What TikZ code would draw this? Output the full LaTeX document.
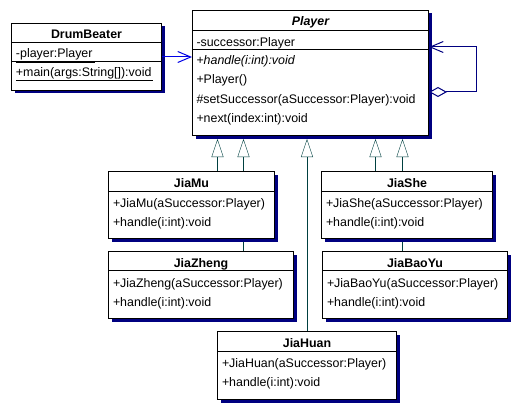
\documentclass[tikz,border=0pt]{standalone}
\usepackage{fontspec}
\setmainfont{Liberation Sans}
\usetikzlibrary{arrows.meta,shadows,backgrounds,calc}
\definecolor{umlnavy}{RGB}{0,0,128}
\definecolor{umlteal}{RGB}{0,64,64}
\definecolor{umlblue}{RGB}{0,0,230}

\begin{document}
\begin{tikzpicture}[x=1pt,y=-1pt,line width=1pt,font=\fontsize{12.4}{14}\selectfont]
\tikzset{classbox/.style = {draw = black, fill = white, anchor = north west, inner sep = 0pt,
    drop shadow = {shadow xshift = 3pt, shadow yshift = -3pt, fill = umlnavy, opacity = 1}}}
\tikzset{classname/.style = {anchor = base, inner sep = 0pt, font = \fontsize{12.4}{14}\selectfont\bfseries}}
\tikzset{member/.style = {anchor = base west, inner sep = 0pt}}
\tikzset{inherit/.style = {draw = umlteal, -{Triangle[open, length = 18pt, width = 12pt]}}}
\tikzset{assoc/.style = {draw = umlblue, -{Straight Barb[length = 13pt, width = 11pt]}}}
\tikzset{selfassoc/.style = {draw = umlnavy, {Diamond[fill = white, length = 18pt, width = 10pt]}-{Straight Barb[length = 13pt, width = 11pt]}}}

\useasboundingbox (0,0) rectangle (520,412);

% classes
\node[classbox, minimum width = 150pt, minimum height = 67pt]  (drumbeater) at (11,23)  {};
\node[classbox, minimum width = 236pt, minimum height = 125pt] (player)     at (192,10) {};
\node[classbox, minimum width = 166pt, minimum height = 67pt]  (jiamu)      at (108,171) {};
\node[classbox, minimum width = 171pt, minimum height = 67pt]  (jiashe)     at (321,171) {};
\node[classbox, minimum width = 185pt, minimum height = 67pt]  (jiazheng)   at (108,251) {};
\node[classbox, minimum width = 185pt, minimum height = 67pt]  (jiabaoyu)   at (322,251) {};
\node[classbox, minimum width = 179pt, minimum height = 68pt]  (jiahuan)    at (217,331) {};

% DrumBeater
\node[classname] at ($(drumbeater.north)+(0,16)$) {DrumBeater};
\draw ($(drumbeater.north west)+(0,20)$) -- ($(drumbeater.north east)+(0,20)$);
\draw ($(drumbeater.north west)+(0,38.5)$) -- ($(drumbeater.north east)+(0,38.5)$);
\node[member] at ($(drumbeater.north west)+(4.5,35)$)   {\underline{-player:Player\,}};
\node[member] at ($(drumbeater.north west)+(4.5,53.5)$) {\underline{+main(args:String[]):void\,}};

% Player
\node[classname, font = \fontsize{12.4}{14}\selectfont\bfseries\itshape] at ($(player.north)+(0,16)$) {Player};
\draw ($(player.north west)+(0,20.7)$) -- ($(player.north east)+(0,20.7)$);
\draw ($(player.north west)+(0,39.3)$) -- ($(player.north east)+(0,39.3)$);
\node[member] at ($(player.north west)+(4,36.5)$) {-successor:Player};
\node[member] at ($(player.north west)+(4,55)$)   {+\textit{handle(i:int):void}};
\node[member] at ($(player.north west)+(4,74)$)   {+Player()};
\node[member] at ($(player.north west)+(4,93)$)   {\#setSuccessor(aSuccessor:Player):void};
\node[member] at ($(player.north west)+(4,112)$)  {+next(index:int):void};

% JiaMu
\node[classname] at ($(jiamu.north)+(0,16.5)$) {JiaMu};
\draw ($(jiamu.north west)+(0,20)$) -- ($(jiamu.north east)+(0,20)$);
\node[member] at ($(jiamu.north west)+(4.5,36)$) {+JiaMu(aSuccessor:Player)};
\node[member] at ($(jiamu.north west)+(4.5,55)$) {+handle(i:int):void};

% JiaShe
\node[classname] at ($(jiashe.north)+(0,16.5)$) {JiaShe};
\draw ($(jiashe.north west)+(0,20)$) -- ($(jiashe.north east)+(0,20)$);
\node[member] at ($(jiashe.north west)+(4.5,36)$) {+JiaShe(aSuccessor:Player)};
\node[member] at ($(jiashe.north west)+(4.5,55)$) {+handle(i:int):void};

% JiaZheng
\node[classname] at ($(jiazheng.north)+(0,16.5)$) {JiaZheng};
\draw ($(jiazheng.north west)+(0,19.5)$) -- ($(jiazheng.north east)+(0,19.5)$);
\node[member] at ($(jiazheng.north west)+(4.5,36)$) {+JiaZheng(aSuccessor:Player)};
\node[member] at ($(jiazheng.north west)+(4.5,55)$) {+handle(i:int):void};

% JiaBaoYu
\node[classname] at ($(jiabaoyu.north)+(0,16.5)$) {JiaBaoYu};
\draw ($(jiabaoyu.north west)+(0,19.5)$) -- ($(jiabaoyu.north east)+(0,19.5)$);
\node[member] at ($(jiabaoyu.north west)+(4.5,36)$) {+JiaBaoYu(aSuccessor:Player)};
\node[member] at ($(jiabaoyu.north west)+(4.5,55)$) {+handle(i:int):void};

% JiaHuan
\node[classname] at ($(jiahuan.north)+(0,16.5)$) {JiaHuan};
\draw ($(jiahuan.north west)+(0,20)$) -- ($(jiahuan.north east)+(0,20)$);
\node[member] at ($(jiahuan.north west)+(4.5,36.5)$) {+JiaHuan(aSuccessor:Player)};
\node[member] at ($(jiahuan.north west)+(4.5,55.5)$) {+handle(i:int):void};

% generalizations
\begin{scope}[on background layer]
\draw[inherit] ($(jiamu.north)+(26,0)$)      -- ($(jiamu.north |- player.south)+(26,3)$);
\draw[inherit] ($(jiazheng.north)+(42.5,0)$) -- ($(jiazheng.north |- player.south)+(42.5,3)$);
\draw[inherit] (jiahuan.north)               -- ($(jiahuan.north |- player.south)+(0,3)$);
\draw[inherit] ($(jiashe.north)+(-31.5,0)$)  -- ($(jiashe.north |- player.south)+(-31.5,3)$);
\draw[inherit] ($(jiabaoyu.north)+(-12.5,0)$) -- ($(jiabaoyu.north |- player.south)+(-12.5,3)$);
\end{scope}

% associations
\draw[assoc] (drumbeater.east) -- (drumbeater.east -| player.west);
\draw[selfassoc] ($(player.north east)+(0,82)$) -- ++(47,0) |- ($(player.north east)+(0,37)$);
\end{tikzpicture}
\end{document}
